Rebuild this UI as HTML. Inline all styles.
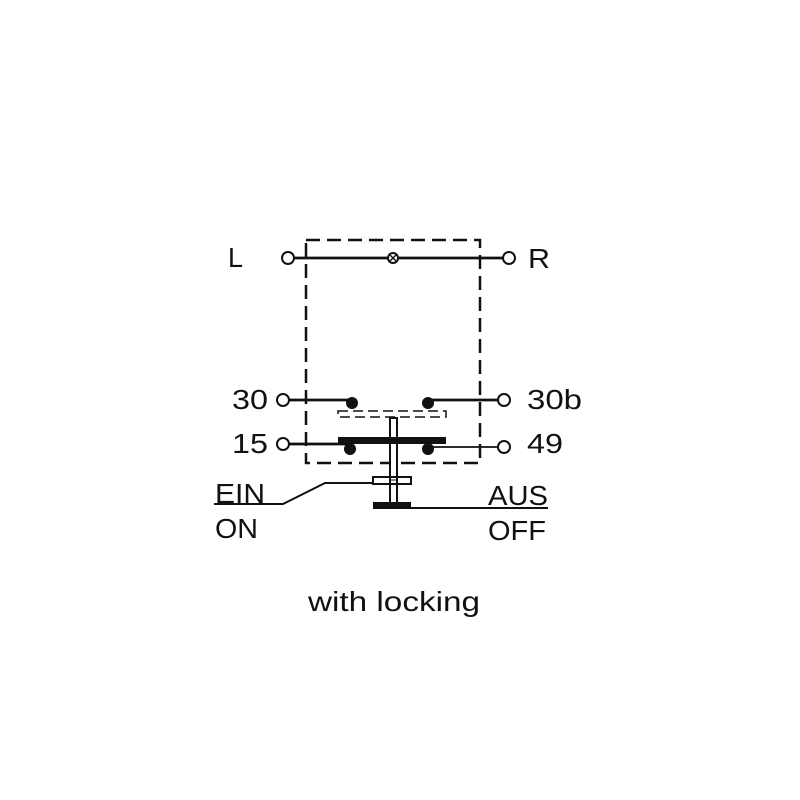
<!DOCTYPE html>
<html><head><style>
html,body{margin:0;padding:0;background:#fff;width:800px;height:800px;overflow:hidden}
text{font-family:"Liberation Sans",sans-serif;fill:#111}
</style></head><body>
<svg width="800" height="800" viewBox="0 0 800 800" xmlns="http://www.w3.org/2000/svg">
<g stroke="#111" fill="none">
<rect x="306" y="240" width="174" height="223" stroke-width="2.5" stroke-dasharray="14,7"/>
<line x1="294" y1="258" x2="503" y2="258" stroke-width="2.8"/>
<circle cx="288" cy="258" r="6" fill="#fff" stroke-width="2"/>
<circle cx="509" cy="258" r="6" fill="#fff" stroke-width="2"/>
<circle cx="393" cy="258" r="5" fill="#fff" stroke-width="2"/>
<line x1="390" y1="255" x2="396" y2="261" stroke-width="1.3"/>
<line x1="396" y1="255" x2="390" y2="261" stroke-width="1.3"/>
<line x1="289" y1="400" x2="352" y2="400" stroke-width="2.8"/>
<line x1="428" y1="400" x2="498" y2="400" stroke-width="2.8"/>
<circle cx="283" cy="400" r="6" fill="#fff" stroke-width="2"/>
<circle cx="504" cy="400" r="6" fill="#fff" stroke-width="2"/>
<rect x="338" y="411" width="108" height="6" stroke-width="1.5" stroke-dasharray="10,5"/>
<line x1="289" y1="444" x2="350" y2="444" stroke-width="2.8"/>
<line x1="428" y1="447" x2="498" y2="447" stroke-width="1.8"/>
<circle cx="283" cy="444" r="6" fill="#fff" stroke-width="2"/>
<circle cx="504" cy="447" r="6" fill="#fff" stroke-width="2"/>
<rect x="390" y="418" width="7" height="86" fill="#fff" stroke-width="2"/>
<rect x="373" y="477" width="38" height="7" fill="none" stroke-width="2"/>
<line x1="390" y1="480" x2="397" y2="480" stroke-width="1"/>
<polyline points="214,504 283,504 325,483 373,483" stroke-width="2"/>
<line x1="411" y1="508" x2="548" y2="508" stroke-width="2"/>
</g>
<g fill="#111">
<circle cx="352" cy="403" r="6"/>
<circle cx="428" cy="403" r="6"/>
<rect x="338" y="437" width="108" height="7"/>
<circle cx="350" cy="449" r="6"/>
<circle cx="428" cy="449" r="6"/>
<rect x="373" y="502" width="38" height="7"/>
</g>
<g font-size="28">
<text x="228" y="267" textLength="15" lengthAdjust="spacingAndGlyphs">L</text>
<text x="528" y="268" textLength="22" lengthAdjust="spacingAndGlyphs">R</text>
<text x="232" y="409" textLength="36" lengthAdjust="spacingAndGlyphs">30</text>
<text x="527" y="409" textLength="55" lengthAdjust="spacingAndGlyphs">30b</text>
<text x="232" y="453" textLength="36" lengthAdjust="spacingAndGlyphs">15</text>
<text x="527" y="453" textLength="36" lengthAdjust="spacingAndGlyphs">49</text>
<text x="215" y="503" textLength="50" lengthAdjust="spacingAndGlyphs">EIN</text>
<text x="215" y="538" textLength="43" lengthAdjust="spacingAndGlyphs">ON</text>
<text x="488" y="505" textLength="60" lengthAdjust="spacingAndGlyphs">AUS</text>
<text x="488" y="540" textLength="58" lengthAdjust="spacingAndGlyphs">OFF</text>
<text x="308" y="611" textLength="172" lengthAdjust="spacingAndGlyphs">with locking</text>
</g>
</svg>
</body></html>
